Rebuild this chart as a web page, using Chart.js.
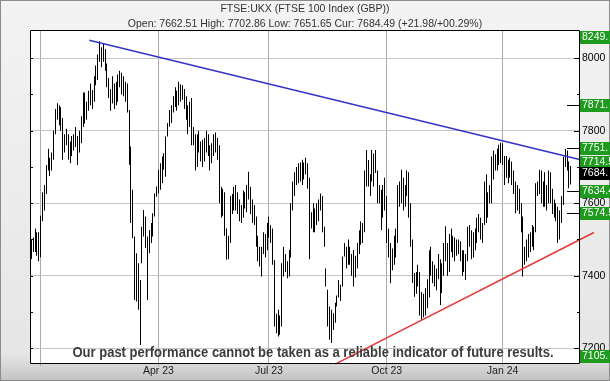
<!DOCTYPE html>
<html>
<head>
<meta charset="utf-8">
<title>FTSE:UKX</title>
<script src="https://cdn.jsdelivr.net/npm/chart.js@4.4.1/dist/chart.umd.min.js"></script>
<style>
  html, body { margin: 0; padding: 0; background: #fff; }
  canvas { display: block; }
</style>
</head>
<body>
<canvas id="chart" width="610" height="381"></canvas>
<script>
'use strict';

/* ── Texts ── */
const TITLE    = 'FTSE:UKX (FTSE 100 Index (GBP))';
const SUBTITLE = 'Open: 7662.51 High: 7702.86 Low: 7651.65 Cur: 7684.49 (+21.98/+00.29%)';
const NOTE     = 'Our past performance cannot be taken as a reliable indicator of future results.';

/* ── Daily bars (trading-day index, 0 = 3 Jan 2023; first bar = 22 Dec 2022) ── */
const FIRST_IDX = -5;

const lows = [
  // Dec 22
  7446, 7465, 7465, 7455, 7440,
  // Jan 23
  7451, 7550, 7580, 7625, 7690, 7675, 7690, 7720, 7790, 7830, 7815, 7800, 7720, 7740, 7760, 7720, 7710, 7730, 7745, 7755, 7705,
  // Feb 23
  7740, 7765, 7810, 7820, 7830, 7855, 7870, 7860, 7880, 7925, 7940, 7990, 7975, 7990, 7965, 7920, 7890, 7855, 7875, 7860,
  // Mar 23
  7870, 7880, 7920, 7900, 7895, 7880, 7850, 7706, 7545, 7503, 7333, 7329, 7306, 7209, 7434, 7508, 7476, 7333, 7462, 7490, 7508, 7563, 7618,
  // Apr 23
  7627, 7637, 7655, 7692, 7673, 7784, 7811, 7821, 7850, 7865, 7855, 7870, 7880, 7885, 7860, 7830, 7790, 7810,
  // May 23
  7760, 7760, 7690, 7700, 7740, 7715, 7700, 7715, 7740, 7730, 7690, 7710, 7730, 7740, 7720, 7600, 7560, 7565, 7510, 7444,
  // Jun 23
  7445, 7490, 7570, 7580, 7580, 7570, 7550, 7545, 7560, 7585, 7575, 7610, 7570, 7545, 7540, 7480, 7440, 7425, 7398, 7460, 7450, 7470,
  // Jul 23
  7505, 7490, 7430, 7260, 7241, 7232, 7237, 7260, 7398, 7410, 7393, 7398, 7450, 7580, 7620, 7650, 7655, 7660, 7650, 7665, 7680,
  // Aug 23
  7640, 7445, 7530, 7520, 7520, 7540, 7550, 7580, 7520, 7480, 7370, 7260, 7223, 7214, 7250, 7270, 7315, 7340, 7330, 7370, 7453, 7420,
  // Sep 23
  7430, 7430, 7400, 7370, 7395, 7420, 7460, 7485, 7490, 7520, 7646, 7646, 7620, 7660, 7646, 7683, 7600, 7600, 7526, 7560, 7580,
  // Oct 23
  7490, 7450, 7379, 7415, 7430, 7450, 7490, 7590, 7600, 7580, 7590, 7620, 7560, 7480, 7380, 7342, 7350, 7370, 7290, 7278, 7285, 7290,
  // Nov 23
  7310, 7340, 7400, 7380, 7370, 7360, 7390, 7319, 7352, 7400, 7440, 7400, 7410, 7465, 7450, 7440, 7455, 7460, 7440, 7400, 7410, 7388,
  // Dec 23
  7440, 7480, 7445, 7450, 7470, 7490, 7520, 7500, 7490, 7540, 7545, 7560, 7600, 7600, 7665, 7690, 7690, 7705, 7710,
  // Jan 24
  7705, 7650, 7670, 7655, 7670, 7650, 7625, 7572, 7580, 7570, 7520, 7398, 7430, 7440, 7450, 7465, 7480, 7470, 7520, 7620, 7625, 7600,
  // Feb 24
  7590, 7590, 7580, 7600, 7600, 7570, 7560, 7550, 7490, 7500, 7545, 7595, 7700, 7690, 7641, 7651.65,
];

const highs = [
  // Dec 22
  7500, 7505, 7530, 7520, 7520,
  // Jan 23
  7565, 7630, 7650, 7705, 7750, 7725, 7740, 7800, 7860, 7876, 7870, 7865, 7835, 7790, 7805, 7790, 7770, 7785, 7790, 7810, 7785,
  // Feb 23
  7800, 7840, 7905, 7905, 7880, 7910, 7930, 7912, 7950, 7980, 8010, 8047, 8030, 8040, 8025, 7985, 7945, 7915, 7950, 7930,
  // Mar 23
  7935, 7955, 7965, 7960, 7950, 7935, 7930, 7857, 7756, 7637, 7508, 7462, 7434, 7388, 7535, 7581, 7563, 7508, 7526, 7545, 7572, 7627, 7646,
  // Apr 23
  7692, 7710, 7729, 7738, 7784, 7821, 7857, 7870, 7895, 7920, 7910, 7935, 7928, 7925, 7915, 7895, 7870, 7880,
  // May 23
  7890, 7810, 7790, 7790, 7800, 7770, 7775, 7780, 7800, 7790, 7760, 7765, 7790, 7795, 7780, 7760, 7645, 7640, 7630, 7530,
  // Jun 23
  7510, 7620, 7625, 7645, 7650, 7630, 7610, 7595, 7635, 7630, 7650, 7687, 7645, 7610, 7595, 7563, 7510, 7480, 7480, 7520, 7515, 7545,
  // Jul 23
  7563, 7540, 7530, 7443, 7295, 7306, 7290, 7434, 7480, 7460, 7440, 7471, 7600, 7660, 7685, 7700, 7710, 7712, 7720, 7712, 7725,
  // Aug 23
  7710, 7670, 7575, 7600, 7585, 7600, 7610, 7627, 7620, 7535, 7420, 7361, 7315, 7306, 7296, 7325, 7345, 7388, 7375, 7453, 7490, 7480,
  // Sep 23
  7500, 7480, 7460, 7471, 7455, 7490, 7525, 7550, 7545, 7690, 7747, 7719, 7680, 7747, 7737, 7747, 7690, 7650, 7637, 7650, 7670,
  // Oct 23
  7620, 7530, 7490, 7475, 7510, 7530, 7650, 7660, 7692, 7670, 7650, 7690, 7685, 7600, 7500, 7407, 7410, 7430, 7410, 7355, 7350, 7365,
  // Nov 23
  7390, 7470, 7480, 7440, 7430, 7420, 7460, 7445, 7434, 7490, 7536, 7490, 7515, 7530, 7510, 7505, 7500, 7500, 7495, 7470, 7470, 7460,
  // Dec 23
  7535, 7540, 7525, 7520, 7530, 7560, 7570, 7560, 7545, 7660, 7680, 7630, 7650, 7729, 7745, 7735, 7750, 7761, 7767,
  // Jan 24
  7765, 7730, 7730, 7720, 7725, 7715, 7690, 7660, 7650, 7640, 7600, 7563, 7480, 7500, 7515, 7520, 7540, 7535, 7655, 7660, 7692, 7690,
  // Feb 24
  7660, 7685, 7650, 7690, 7685, 7640, 7610, 7600, 7590, 7580, 7620, 7729, 7750, 7745, 7715, 7702.86,
];

/* ── Axes ── */
const X_MIN = -5.8;
const X_MAX = 292.5;
const Y_MIN = 7159;
const Y_MAX = 8075;

const xTickIdx    = [0, 64, 124, 188, 251];
const xTickLabels = ['', 'Apr 23', 'Jul 23', 'Oct 23', 'Jan 24'];
const yTicks      = [7200, 7300, 7400, 7500, 7600, 7700, 7800, 7900, 8000];

/* ── Trend lines (index, price) ── */
const resistance = [{ x: 26.4, y: 8049.5 }, { x: 300.6, y: 7711 }];
const support    = [{ x: 160,  y: 7156 },   { x: 300.6, y: 7519 }];

/* ── Price levels shown on the right ── */
const levelVals   = [8249, 7871, 7751, 7714, 7684, 7634, 7574, 7105];
const levelText   = ['8249.', '7871.', '7751.', '7714.5', '7684.', '7634.4', '7574.5', '7105.'];
const levelMarker = [false, true, true, false, false, true, true, false];
const levelIsLast = [false, false, false, false, true, false, false, false];

const FONT = '"Liberation Sans", Arial, sans-serif';
const BAR_DATASET = 2;

/* ── Snap the 1px bars onto whole pixels so they stay crisp ── */
const snapPlugin = {
  id: 'snap',
  beforeDatasetsDraw(chart) {
    chart.getDatasetMeta(BAR_DATASET).data.forEach(el => {
      el.x = Math.floor(el.x) + 0.5;
    });
  },
};

/* ── Frame, header, borders, labels ── */
const chromePlugin = {
  id: 'chrome',
  beforeDraw(chart) {
    const { ctx, chartArea: a, width, height } = chart;
    ctx.save();
    const g = ctx.createLinearGradient(0, 0, 0, height);
    g.addColorStop(0, '#f3f3f3');
    g.addColorStop(0.93, '#e6e6e6');
    g.addColorStop(1, '#c2c2c2');
    ctx.fillStyle = g;
    ctx.fillRect(0, 0, width, height);
    ctx.strokeStyle = '#8c8c8c';
    ctx.strokeRect(0.5, 0.5, width - 1, height - 1);

    ctx.fillStyle = '#fff';
    ctx.fillRect(a.left, a.top, a.right - a.left, a.bottom - a.top);

    ctx.fillStyle = '#333';
    ctx.font = '10.5px ' + FONT;
    ctx.textAlign = 'center';
    ctx.textBaseline = 'middle';
    ctx.fillText(TITLE, 305, 9);
    ctx.fillText(SUBTITLE, 305, 24);
    ctx.restore();
  },
  afterDraw(chart) {
    const { ctx, chartArea: a } = chart;
    const y = chart.scales.y;
    ctx.save();

    /* plot border */
    ctx.strokeStyle = '#000';
    ctx.lineWidth = 1;
    ctx.beginPath();
    ctx.moveTo(a.left + 0.5, a.top - 0.5);
    ctx.lineTo(a.right + 0.5, a.top - 0.5);
    ctx.lineTo(a.right + 0.5, a.bottom + 0.5);
    ctx.lineTo(a.left + 0.5, a.bottom + 0.5);
    ctx.closePath();
    ctx.stroke();

    /* inner tick marks, left and right */
    ctx.beginPath();
    yTicks.forEach(v => {
      const py = Math.round(y.getPixelForValue(v)) + 0.5;
      ctx.moveTo(a.left, py);
      ctx.lineTo(a.left + 3, py);
      ctx.moveTo(a.right - (v % 200 === 0 ? 5 : 2), py);
      ctx.lineTo(a.right, py);
    });
    ctx.stroke();

    /* level markers + boxes */
    ctx.font = '10.5px ' + FONT;
    ctx.textAlign = 'left';
    ctx.textBaseline = 'middle';
    levelVals.forEach((v, i) => {
      const raw = y.getPixelForValue(v);
      if (levelMarker[i]) {
        const py = Math.round(raw) + 0.5;
        ctx.strokeStyle = '#000';
        ctx.beginPath();
        ctx.moveTo(a.right - 12, py);
        ctx.lineTo(a.right, py);
        ctx.stroke();
      }
      const cy = Math.round(Math.min(Math.max(raw, a.top + 6), a.bottom - 7));
      ctx.fillStyle = levelIsLast[i] ? '#000' : '#1e9a1e';
      ctx.fillRect(a.right + 1, cy - 6, 31, 13);
      ctx.fillStyle = '#fff';
      ctx.fillText(levelText[i], a.right + 3, cy + 0.5);
    });

    /* disclaimer */
    ctx.font = 'bold 14px ' + FONT;
    const w = ctx.measureText(NOTE).width;
    ctx.translate(313, 357);
    ctx.scale(481 / w, 1);
    ctx.textAlign = 'center';
    ctx.textBaseline = 'alphabetic';
    ctx.fillStyle = '#3c3c3c';
    ctx.fillText(NOTE, 0, 0);
    ctx.restore();
  },
};

const bars = lows.map((lo, k) => ({ x: k + FIRST_IDX, y: [lo, highs[k]] }));

new Chart(document.getElementById('chart'), {
  type: 'bar',
  data: {
    datasets: [
      {
        type: 'line',
        data: resistance,
        borderColor: '#3434c8',
        borderWidth: 1.5,
        pointRadius: 0,
        clip: false,
        order: 0,
      },
      {
        type: 'line',
        data: support,
        borderColor: '#e23a32',
        borderWidth: 1.5,
        pointRadius: 0,
        clip: false,
        order: 0,
      },
      {
        type: 'bar',
        data: bars,
        backgroundColor: '#000',
        borderWidth: 0,
        barThickness: 1,
        inflateAmount: 0,
        order: 1,
      },
    ],
  },
  options: {
    responsive: false,
    animation: false,
    devicePixelRatio: 1,
    layout: { padding: { left: 30, top: 31, right: 0, bottom: 0 } },
    plugins: { legend: { display: false }, tooltip: { enabled: false } },
    scales: {
      x: {
        type: 'linear',
        min: X_MIN,
        max: X_MAX,
        offset: false,
        afterBuildTicks: s => { s.ticks = xTickIdx.map(v => ({ value: v })); },
        afterFit: s => { s.height = 18; },
        grid: { color: '#ababab', tickLength: 3, offset: false },
        border: { display: false },
        ticks: {
          autoSkip: false,
          maxRotation: 0,
          padding: -1,
          color: '#222',
          font: { family: FONT, size: 10.5 },
          callback: (v, i) => xTickLabels[i],
        },
      },
      y: {
        position: 'right',
        min: Y_MIN,
        max: Y_MAX,
        afterBuildTicks: s => { s.ticks = yTicks.map(v => ({ value: v })); },
        afterFit: s => { s.width = 31; },
        grid: {
          drawTicks: false,
          color: c => (c.tick && c.tick.value % 200 === 0) ? '#c6c6c6' : 'rgba(0,0,0,0)',
        },
        border: { display: false },
        ticks: {
          padding: 3,
          color: '#000',
          font: { family: FONT, size: 10.5 },
          callback: v => (v % 200 === 0 ? String(v) : ''),
        },
      },
    },
  },
  plugins: [snapPlugin, chromePlugin],
});
</script>
</body>
</html>
